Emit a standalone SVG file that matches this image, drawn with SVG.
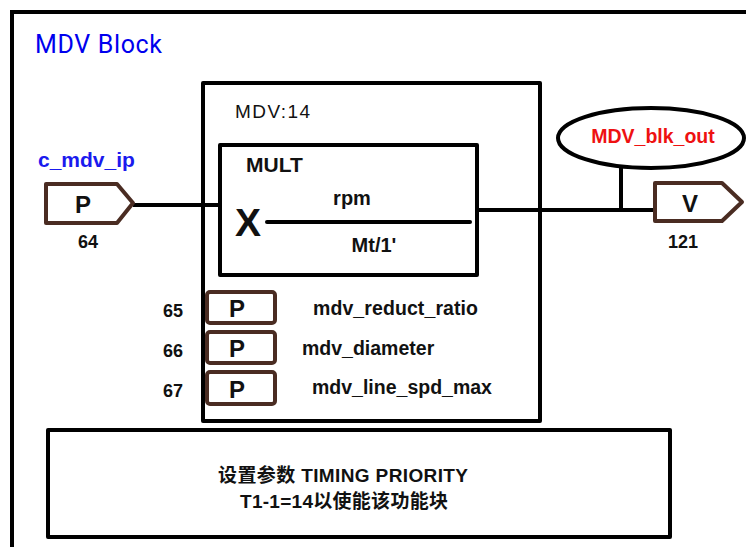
<svg xmlns="http://www.w3.org/2000/svg" width="746" height="547" viewBox="0 0 746 547">
<style>
.frame{fill:#fff;stroke:#000;stroke-width:4;stroke-linejoin:round}
.tag{fill:#fff;stroke:#4a2c22;stroke-width:4;stroke-linejoin:round}
.wire{fill:none;stroke:#000;stroke-width:4;stroke-linecap:butt}
.b{font-family:"Liberation Sans",Arial,sans-serif;font-weight:bold;fill:#111}
.r{font-family:"Liberation Sans",Arial,sans-serif;fill:#111}
.cjk{font-family:"Liberation Sans","Noto Sans CJK SC",sans-serif;font-weight:bold;fill:#111}
</style>
<rect width="746" height="547" fill="#fff"/>
<g id="outer">
<path d="M12,549 V12 H750" fill="none" stroke="#000" stroke-width="4"/>
<text x="35" y="53" font-family="Roboto,'Liberation Sans',sans-serif" font-size="25" fill="#0000ee" textLength="127">MDV Block</text>
</g>
<g id="mdv14">
<rect class="frame" x="203" y="83" width="337" height="338"/>
<text class="r" x="235" y="118" font-family="Roboto,'Liberation Sans',sans-serif" font-size="19" textLength="75">MDV:14</text>
</g>
<g id="mult">
<rect class="frame" x="220" y="145" width="257" height="130"/>
<text class="b" x="246" y="172" font-size="21">MULT</text>
<text class="b" x="235" y="236" font-size="39">X</text>
<line x1="267" y1="222" x2="470" y2="222" stroke="#000" stroke-width="4" stroke-linecap="round"/>
<text class="b" x="352" y="205" font-size="20" text-anchor="middle">rpm</text>
<text class="b" x="374" y="252" font-size="20" text-anchor="middle">Mt/1'</text>
</g>
<g id="connectors">
<line class="wire" x1="133" y1="205" x2="220" y2="205"/>
<line class="wire" x1="477" y1="210" x2="655" y2="210"/>
<line class="wire" x1="621" y1="168" x2="621" y2="210"/>
</g>
<g id="input">
<text class="b" x="38" y="167" font-size="21" style="fill:#1a1aee">c_mdv_ip</text>
<polygon class="tag" points="46,184 117,184 133,203 117,223 46,223"/>
<text class="b" x="83" y="213" font-size="24" text-anchor="middle">P</text>
<text class="b" x="88" y="248" font-size="18" text-anchor="middle">64</text>
</g>
<g id="output">
<polygon class="tag" points="655,183 722,183 742,202 722,221 655,221"/>
<text class="b" x="690" y="212" font-size="24" text-anchor="middle">V</text>
<text class="b" x="683" y="248" font-size="18" text-anchor="middle">121</text>
</g>
<g id="blk_out">
<ellipse cx="651" cy="138" rx="93" ry="30" fill="#fff" stroke="#000" stroke-width="4"/>
<text class="b" x="653" y="143" font-size="19.5" text-anchor="middle" style="fill:#ee1111">MDV_blk_out</text>
</g>
<g id="p65">
<rect class="tag" x="207" y="292" width="68" height="31" rx="3"/>
<text class="b" x="237" y="317" font-size="24" text-anchor="middle">P</text>
<text class="b" x="173" y="317" font-size="18" text-anchor="middle">65</text>
<text class="b" x="313" y="315" font-size="19.5" textLength="165">mdv_reduct_ratio</text>
</g>
<g id="p66">
<rect class="tag" x="207" y="332" width="68" height="31" rx="3"/>
<text class="b" x="237" y="357" font-size="24" text-anchor="middle">P</text>
<text class="b" x="173" y="357" font-size="18" text-anchor="middle">66</text>
<text class="b" x="302" y="355" font-size="19.5">mdv_diameter</text>
</g>
<g id="p67">
<rect class="tag" x="207" y="372" width="68" height="32" rx="3"/>
<text class="b" x="237" y="398" font-size="24" text-anchor="middle">P</text>
<text class="b" x="173" y="397" font-size="18" text-anchor="middle">67</text>
<text class="b" x="312" y="394" font-size="19.5">mdv_line_spd_max</text>
</g>
<g id="note">
<rect class="frame" x="48" y="430" width="622" height="107"/>
<text class="cjk" x="218" y="482" font-size="19" textLength="250">设置参数 TIMING PRIORITY</text>
<text class="cjk" x="240" y="508" font-size="19" textLength="208">T1-1=14以使能该功能块</text>
</g>
</svg>
